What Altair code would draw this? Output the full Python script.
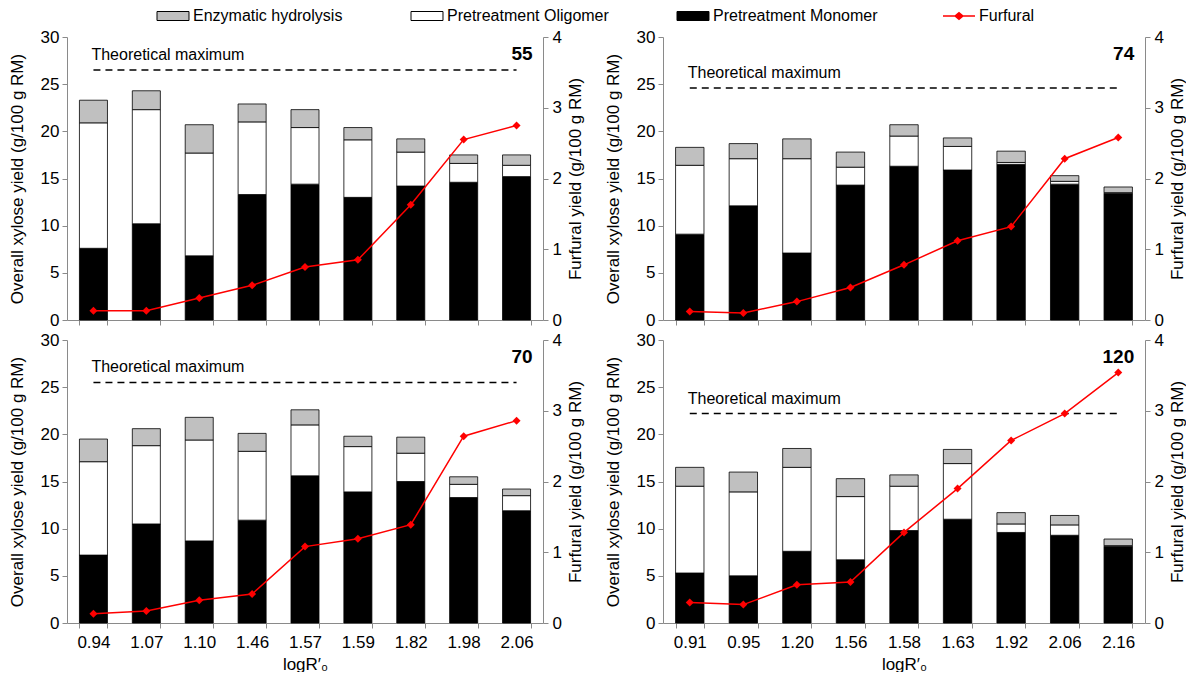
import altair as alt
import pandas as pd

FONT = "Liberation Sans"

components = ["Enzymatic hydrolysis", "Pretreatment Oligomer", "Pretreatment Monomer"]
comp_colors = ["#c0c0c0", "#ffffff", "#000000"]
stack_order = {"Pretreatment Monomer": 0, "Pretreatment Oligomer": 1, "Enzymatic hydrolysis": 2}

labels_left = ["0.94", "1.07", "1.10", "1.46", "1.57", "1.59", "1.82", "1.98", "2.06"]
labels_right = ["0.91", "0.95", "1.20", "1.56", "1.58", "1.63", "1.92", "2.06", "2.16"]

# panel "55"
p55_mono = [7.6, 10.2, 6.8, 13.3, 14.4, 13.0, 14.2, 14.6, 15.2]
p55_olig = [13.3, 12.1, 10.9, 7.7, 6.0, 6.1, 3.6, 2.0, 1.2]
p55_enz = [2.4, 2.0, 3.0, 1.9, 1.9, 1.3, 1.4, 0.9, 1.1]
p55_furf = [0.13, 0.13, 0.31, 0.49, 0.75, 0.85, 1.63, 2.55, 2.75]
p55_tmax = 26.5

# panel "74"
p74_mono = [9.1, 12.1, 7.1, 14.3, 16.3, 15.9, 16.5, 14.4, 13.4]
p74_olig = [7.3, 5.0, 10.0, 1.9, 3.2, 2.5, 0.2, 0.3, 0.1]
p74_enz = [1.9, 1.6, 2.1, 1.6, 1.2, 0.9, 1.2, 0.6, 0.6]
p74_furf = [0.12, 0.10, 0.26, 0.46, 0.78, 1.12, 1.32, 2.28, 2.58]
p74_tmax = 24.6

# panel "70"
p70_mono = [7.2, 10.5, 8.7, 10.9, 15.6, 13.9, 15.0, 13.3, 11.9]
p70_olig = [9.9, 8.3, 10.7, 7.3, 5.4, 4.8, 3.0, 1.4, 1.6]
p70_enz = [2.4, 1.8, 2.4, 1.9, 1.6, 1.1, 1.7, 0.8, 0.7]
p70_furf = [0.13, 0.17, 0.32, 0.41, 1.08, 1.19, 1.39, 2.64, 2.86]
p70_tmax = 25.5

# panel "120"
p120_mono = [5.3, 5.0, 7.6, 6.7, 9.8, 11.0, 9.6, 9.3, 8.1]
p120_olig = [9.2, 8.9, 8.9, 6.7, 4.7, 5.9, 0.9, 1.1, 0.1]
p120_enz = [2.0, 2.1, 2.0, 1.9, 1.2, 1.5, 1.2, 1.0, 0.7]
p120_furf = [0.29, 0.26, 0.54, 0.58, 1.28, 1.90, 2.58, 2.96, 3.54]
p120_tmax = 22.2

BAR_PATH = "M-1,-0.75H4.333V0.75H-1Z"
FURF_PATH = ("M-1,-0.12H0.967L1.667,-0.7L2.367,-0.12H4.333V0.12H2.367"
             "L1.667,0.7L0.967,0.12H-1Z")


def panel(cats, mono, olig, enz, furf, tmax, tag, show_x, width, height):
    rows = []
    for i, c in enumerate(cats):
        for comp, vals in (("Pretreatment Monomer", mono),
                           ("Pretreatment Oligomer", olig),
                           ("Enzymatic hydrolysis", enz)):
            rows.append({"cat": c, "comp": comp, "val": vals[i], "ord": stack_order[comp]})
    bars_df = pd.DataFrame(rows)
    furf_df = pd.DataFrame({"cat": cats, "furf": furf, "series": ["Furfural"] * len(cats)})
    tm_df = pd.DataFrame({"cat": [cats[0], cats[-1]], "y": [tmax, tmax]})
    tmt_df = pd.DataFrame({"cat": [cats[0]], "y": [tmax], "t": ["Theoretical maximum"]})
    tag_df = pd.DataFrame({"cat": [cats[-1]], "t": [tag]})

    xsc = alt.Scale(domain=cats, paddingInner=0.47, paddingOuter=0.235)
    if show_x:
        xaxis = alt.Axis(labels=True, tickBand="extent", tickSize=5, labelPadding=6,
                         labelAngle=0, titlePadding=6)
        xtitle = "logR\u2032\u2080"
    else:
        xaxis = alt.Axis(labels=False, tickBand="extent", tickSize=5)
        xtitle = None
    X = alt.X("cat:N", scale=xsc, axis=xaxis, title=xtitle, sort=cats)

    ysc = alt.Scale(domain=[0, 30], nice=False, zero=True)
    yaxis = alt.Axis(values=[0, 5, 10, 15, 20, 25, 30], tickSize=5, labelPadding=3,
                     titlePadding=14)

    bars = alt.Chart(bars_df).mark_bar(stroke="#000000", strokeWidth=0.8).encode(
        x=X,
        y=alt.Y("val:Q", stack="zero", scale=ysc, axis=yaxis,
                title="Overall xylose yield (g/100 g RM)"),
        fill=alt.Fill("comp:N", scale=alt.Scale(domain=components, range=comp_colors),
                      legend=alt.Legend(orient="none", legendX=88, legendY=-29,
                                        direction="horizontal", columns=3,
                                        columnPadding=66, symbolType=BAR_PATH,
                                        symbolSize=144, labelOffset=22,
                                        labelFontSize=16, labelLimit=400,
                                        title=None, padding=0,
                                        symbolStrokeColor="#000000",
                                        symbolStrokeWidth=1)),
        order=alt.Order("ord:Q", sort="ascending"),
    )
    tmline = alt.Chart(tm_df).mark_line(color="#000000", strokeWidth=1.5,
                                        strokeDash=[7, 5]).encode(
        x=alt.X("cat:N", scale=xsc, sort=cats),
        y=alt.Y("y:Q", scale=ysc),
    )
    tmtext = alt.Chart(tmt_df).mark_text(align="left", baseline="middle", dx=-2, dy=-15,
                                         fontSize=16, font=FONT, color="#000000").encode(
        x=alt.X("cat:N", scale=xsc, sort=cats),
        y=alt.Y("y:Q", scale=ysc),
        text="t:N",
    )
    tagtext = alt.Chart(tag_df).mark_text(align="right", baseline="middle", dx=16,
                                          fontSize=19, fontWeight="bold", font=FONT,
                                          color="#000000").encode(
        x=alt.X("cat:N", scale=xsc, sort=cats),
        y=alt.value(17),
        text="t:N",
    )
    left = alt.layer(bars, tmline, tmtext, tagtext)

    fsc = alt.Scale(domain=[0, 4], nice=False, zero=True)
    faxis = alt.Axis(orient="right", values=[0, 1, 2, 3, 4], format="d", tickSize=5,
                     labelPadding=4, titlePadding=6, titleAngle=270, titleBaseline="top")
    fline = alt.Chart(furf_df).mark_line(color="#ff0000", strokeWidth=1.5).encode(
        x=alt.X("cat:N", scale=xsc, sort=cats),
        y=alt.Y("furf:Q", scale=fsc, axis=faxis, title="Furfural yield (g/100 g RM)"),
    )
    fpts = alt.Chart(furf_df).mark_point(shape="diamond", filled=True, size=64,
                                         opacity=1).encode(
        x=alt.X("cat:N", scale=xsc, sort=cats),
        y=alt.Y("furf:Q", scale=fsc),
        color=alt.Color("series:N", scale=alt.Scale(domain=["Furfural"], range=["#ff0000"]),
                        legend=alt.Legend(orient="none", legendX=874, legendY=-29,
                                          symbolType=FURF_PATH, symbolSize=144,
                                          labelOffset=22, labelFontSize=16,
                                          labelLimit=400, title=None,
                                          padding=0, symbolStrokeWidth=0)),
    )
    right = alt.layer(fline, fpts)
    return alt.layer(left, right).resolve_scale(y="independent").properties(
        width=width, height=height)


H = 283
p55 = panel(labels_left, p55_mono, p55_olig, p55_enz, p55_furf, p55_tmax, "55", False, 476, H)
p74 = panel(labels_right, p74_mono, p74_olig, p74_enz, p74_furf, p74_tmax, "74", False, 482, H)
p70 = panel(labels_left, p70_mono, p70_olig, p70_enz, p70_furf, p70_tmax, "70", True, 476, H)
p120 = panel(labels_right, p120_mono, p120_olig, p120_enz, p120_furf, p120_tmax, "120", True, 482, H)

top = alt.hconcat(p55, p74, spacing=20)
bottom = alt.hconcat(p70, p120, spacing=20)

chart = alt.vconcat(top, bottom, spacing=3).properties(
    padding={"left": 0, "top": 0, "right": 0, "bottom": 0}
).configure(
    font=FONT,
).configure_view(
    stroke=None,
).configure_axis(
    grid=False,
    domainColor="#8a8a8a",
    tickColor="#8a8a8a",
    labelColor="#000000",
    titleColor="#000000",
    labelFont=FONT,
    titleFont=FONT,
    labelFontSize=17,
    titleFontSize=17,
    titleFontWeight="normal",
).configure_legend(
    labelFont=FONT,
    labelColor="#000000",
)

chart.save("out.html", embed_options={"renderer": "svg", "actions": False})
